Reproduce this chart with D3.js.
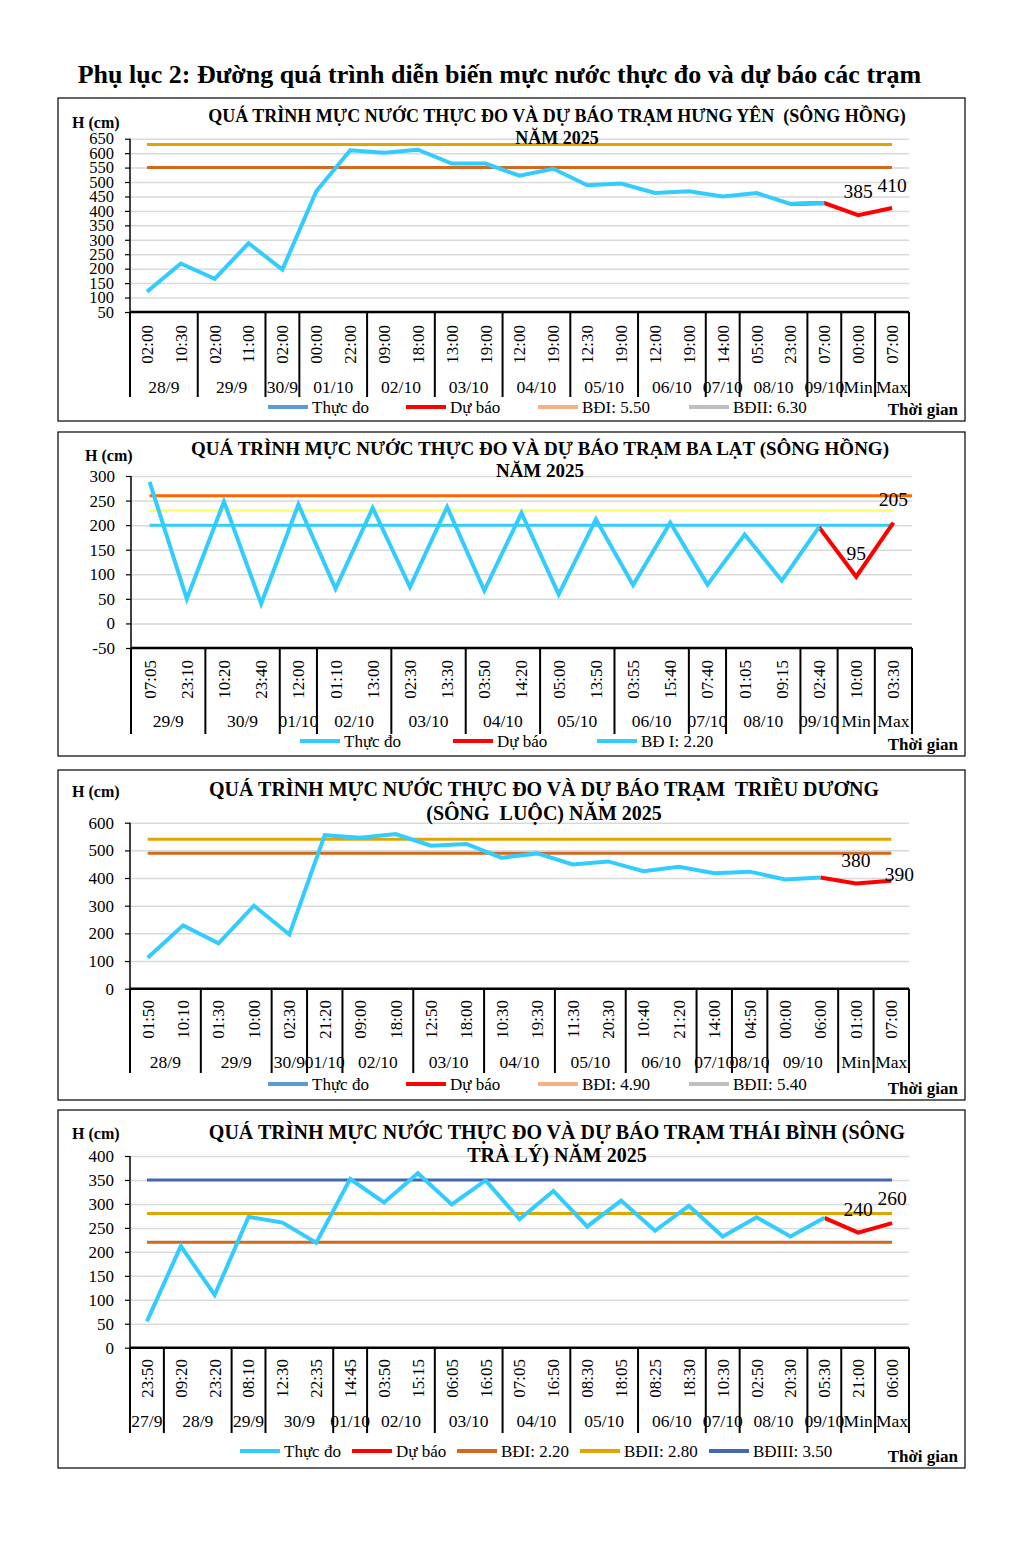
<!DOCTYPE html>
<html>
<head>
<meta charset="utf-8">
<script src="https://cdn.jsdelivr.net/npm/d3@7"></script>
<style>
  body { margin: 0; background: #fff; }
  text { font-family: "Liberation Serif", "Times New Roman", serif; }
</style>
</head>
<body>
<div id="chart"></div>
<script>
// Tram Hung Yen (song Hong)
var hyNgay = ["28/9","28/9","29/9","29/9","30/9","01/10","01/10","02/10","02/10","03/10","03/10","04/10","04/10","05/10","05/10","06/10","06/10","07/10","08/10","08/10","09/10","Min","Max"];
var hyGio = ["02:00","10:30","02:00","11:00","02:00","00:00","22:00","09:00","18:00","13:00","19:00","12:00","19:00","12:30","19:00","12:00","19:00","14:00","05:00","23:00","07:00","00:00","07:00"];
var hyThucDo = [120,218,165,288,197,468,610,601,612,564,564,522,546,489,495,462,468,450,462,424,427,null,null];
var hyDuBao = [null,null,null,null,null,null,null,null,null,null,null,null,null,null,null,null,null,null,null,424,427,385,410];
var hyBaoDong = [550, 630];
var hyChuGiai = ["Thực đo", "Dự báo", "BĐI: 5.50", "BĐII: 6.30"];
var hyYTicks = [50,100,150,200,250,300,350,400,450,500,550,600,650];

// Tram Ba Lat (song Hong)
var baNgay = ["29/9","29/9","30/9","30/9","01/10","02/10","02/10","03/10","03/10","04/10","04/10","05/10","05/10","06/10","06/10","07/10","08/10","08/10","09/10","Min","Max"];
var baGio = ["07:05","23:10","10:20","23:40","12:00","01:10","13:00","02:30","13:30","03:50","14:20","05:00","13:50","03:55","15:40","07:40","01:05","09:15","02:40","10:00","03:30"];
var baThucDo = [288,50,248,40,242,71,235,74,237,67,225,59,212,78,205,79,181,87,196,null,null];
var baDuBao = [null,null,null,null,null,null,null,null,null,null,null,null,null,null,null,null,null,null,196,95,205];
var baBaoDong = [200, 230, 260];
var baChuGiai = ["Thực đo", "Dự báo", "BĐ I: 2.20"];
var baYTicks = [-50,0,50,100,150,200,250,300];

// Tram Trieu Duong (song Luoc)
var tdNgay = ["28/9","28/9","29/9","29/9","30/9","01/10","02/10","02/10","03/10","03/10","04/10","04/10","05/10","05/10","06/10","06/10","07/10","08/10","09/10","09/10","Min","Max"];
var tdGio = ["01:50","10:10","01:30","10:00","02:30","21:20","09:00","18:00","12:50","18:00","10:30","19:30","11:30","20:30","10:40","21:20","14:00","04:50","00:00","06:00","01:00","07:00"];
var tdThucDo = [112,229,164,300,196,555,546,559,517,523,473,489,449,460,425,441,417,423,395,402,null,null];
var tdDuBao = [null,null,null,null,null,null,null,null,null,null,null,null,null,null,null,null,null,null,null,402,380,390];
var tdBaoDong = [490, 540];
var tdChuGiai = ["Thực đo", "Dự báo", "BĐI: 4.90", "BĐII: 5.40"];
var tdYTicks = [0,100,200,300,400,500,600];

// Tram Thai Binh (song Tra Ly)
var tbNgay = ["27/9","28/9","28/9","29/9","30/9","30/9","01/10","02/10","02/10","03/10","03/10","04/10","04/10","05/10","05/10","06/10","06/10","07/10","08/10","08/10","09/10","Min","Max"];
var tbGio = ["23:50","09:20","23:20","08:10","12:30","22:35","14:45","03:50","15:15","06:05","16:05","07:05","16:50","08:30","18:05","08:25","18:30","10:30","02:50","20:30","05:30","21:00","06:00"];
var tbThucDo = [55,212,110,273,261,219,352,303,364,299,349,268,327,253,307,244,296,232,272,232,271,null,null];
var tbDuBao = [null,null,null,null,null,null,null,null,null,null,null,null,null,null,null,null,null,null,null,null,271,240,260];
var tbBaoDong = [220, 280, 350];
var tbChuGiai = ["Thực đo", "Dự báo", "BĐI: 2.20", "BĐII: 2.80", "BĐIII: 3.50"];
var tbYTicks = [0,50,100,150,200,250,300,350,400];

var W = 1028, H = 1548;
var svg = d3.select("#chart").append("svg")
    .attr("width", W)
    .attr("height", H);

// Tieu de chung
svg.append("text")
    .attr("x", 499.5).attr("y", 83)
    .attr("text-anchor", "middle")
    .style("font-size", "26px").style("font-weight", "bold")
    .text("Phụ lục 2: Đường quá trình diễn biến mực nước thực đo và dự báo các trạm");

var cObs = "#33CCFF", cFc = "#FF0000";

function drawPanel(c) {
    var g = svg.append("g");
    var n = c.gio.length;

    g.append("rect")
        .attr("x", c.box[0]).attr("y", c.box[1])
        .attr("width", c.box[2]).attr("height", c.box[3])
        .attr("fill", "#fff").attr("stroke", "#000").attr("stroke-width", 1.2);

    var x = d3.scaleBand().domain(d3.range(n)).range([c.left, c.right]);
    var xc = function(i) { return x(i) + x.bandwidth() / 2; };
    var y = d3.scaleLinear().domain(c.yDomain).range([c.bottom, c.top]);

    // luoi ngang + nhan truc y
    var ax = g.append("g")
        .attr("transform", "translate(" + c.left + ",0)")
        .call(d3.axisLeft(y).tickValues(c.yTicks).tickFormat(String)
            .tickSize(-(c.right - c.left)).tickPadding(16));
    ax.select(".domain").remove();
    ax.selectAll(".tick line").attr("stroke", "#D9D9D9").attr("stroke-width", 1.5);
    ax.selectAll(".tick text")
        .style("font-size", c.tickFont || "17px")
        .style("font-family", "'Liberation Serif', serif").attr("fill", "#000");
    // vach nho ben trai
    ax.selectAll(".tick").append("line")
        .attr("x1", -5).attr("x2", 0).attr("stroke", "#000").attr("stroke-width", 1.2);

    // duong bao dong
    c.alerts.forEach(function(a, k) {
        g.append("line")
            .attr("x1", xc(0))
            .attr("x2", c.alertToEdge && c.alertToEdge[k] ? c.right : xc(n - 1))
            .attr("y1", y(a)).attr("y2", y(a))
            .attr("stroke", c.alertColors[k]).attr("stroke-width", 3);
    });

    var line = d3.line()
        .defined(function(d) { return d != null; })
        .x(function(d, i) { return xc(i); })
        .y(function(d) { return y(d); });

    g.append("path").datum(c.duBao)
        .attr("d", line).attr("fill", "none")
        .attr("stroke", cFc).attr("stroke-width", 4);
    g.append("path").datum(c.thucDo)
        .attr("d", line).attr("fill", "none")
        .attr("stroke", cObs).attr("stroke-width", 4);

    // nhan gia tri du bao Min / Max
    [n - 2, n - 1].forEach(function(i, k) {
        g.append("text")
            .attr("x", xc(i) + c.lblOff[k][0])
            .attr("y", y(c.duBao[i]) + c.lblOff[k][1])
            .attr("text-anchor", "middle")
            .style("font-size", "19.5px")
            .text(c.duBao[i]);
    });

    // truc x nhieu cap
    g.append("line")
        .attr("x1", c.left).attr("x2", c.left)
        .attr("y1", c.top).attr("y2", c.sepBottom)
        .attr("stroke", "#000").attr("stroke-width", 1.5);
    g.append("line")
        .attr("x1", c.left).attr("x2", c.right)
        .attr("y1", c.bottom).attr("y2", c.bottom)
        .attr("stroke", "#000").attr("stroke-width", 2.5);

    g.selectAll(".gio").data(c.gio).enter().append("text")
        .attr("transform", function(d, i) { return "translate(" + xc(i) + "," + c.timeTop + ") rotate(-90)"; })
        .attr("text-anchor", "end")
        .attr("dy", "0.35em")
        .style("font-size", "17px")
        .text(function(d) { return d; });

    // nhom theo ngay
    var groups = [];
    c.ngay.forEach(function(d, i) {
        if (i === 0 || d !== c.ngay[i - 1]) groups.push({ name: d, start: i, end: i });
        else groups[groups.length - 1].end = i;
    });
    groups.forEach(function(gr) {
        var x0 = x(gr.start), x1 = x(gr.end) + x.bandwidth();
        g.append("line")
            .attr("x1", x1).attr("x2", x1)
            .attr("y1", c.bottom).attr("y2", c.sepBottom)
            .attr("stroke", "#000").attr("stroke-width", 2);
        g.append("text")
            .attr("x", (x0 + x1) / 2).attr("y", c.dateY)
            .attr("text-anchor", "middle")
            .style("font-size", "17.5px")
            .text(gr.name);
    });
    g.append("line")
        .attr("x1", c.left).attr("x2", c.left)
        .attr("y1", c.bottom).attr("y2", c.sepBottom)
        .attr("stroke", "#000").attr("stroke-width", 2);

    // tieu de
    c.title.forEach(function(t, k) {
        g.append("text")
            .attr("x", c.titleX).attr("y", c.titleY + k * c.titleGap)
            .attr("text-anchor", "middle")
            .style("font-size", c.titleFont).style("font-weight", "bold")
            .style("white-space", "pre")
            .text(t);
    });
    g.append("text")
        .attr("x", c.hX).attr("y", c.hY)
        .style("font-size", "16px").style("font-weight", "bold")
        .text("H (cm)");
    g.append("text")
        .attr("x", c.box[0] + c.box[2] - 7).attr("y", c.box[1] + c.box[3] - 6)
        .attr("text-anchor", "end")
        .style("font-size", "17px").style("font-weight", "bold")
        .text("Thời gian");

    // chu giai
    c.legend.forEach(function(t, k) {
        var lx = c.legendX[k];
        g.append("line")
            .attr("x1", lx).attr("x2", lx + 40)
            .attr("y1", c.legendY).attr("y2", c.legendY)
            .attr("stroke", c.legendColors[k]).attr("stroke-width", 4);
        g.append("text")
            .attr("x", lx + 44).attr("y", c.legendY + 6)
            .style("font-size", "17px")
            .text(t);
    });
}

drawPanel({
    box: [58, 98, 907, 323],
    left: 130, right: 909, top: 138.7, bottom: 312,
    yDomain: [50, 650], yTicks: hyYTicks, tickFont: "16.5px",
    ngay: hyNgay, gio: hyGio, thucDo: hyThucDo, duBao: hyDuBao,
    alerts: hyBaoDong, alertColors: ["#D2691E", "#E2A400"],
    lblOff: [[0, -17], [0, -16]],
    timeTop: 325, dateY: 393, sepBottom: 397,
    title: ["QUÁ TRÌNH MỰC NƯỚC THỰC ĐO VÀ DỰ BÁO TRẠM HƯNG YÊN  (SÔNG HỒNG)", "NĂM 2025"],
    titleX: 557, titleY: 122, titleFont: "18px", titleGap: 22,
    hX: 72, hY: 128,
    legend: hyChuGiai, legendColors: ["#5B9BD5", "#FF0000", "#F4B183", "#BFBFBF"],
    legendX: [268, 406, 538, 689], legendY: 407
});

drawPanel({
    box: [58, 432, 907, 324],
    left: 131, right: 912, top: 476, bottom: 648,
    yDomain: [-50, 300], yTicks: baYTicks,
    ngay: baNgay, gio: baGio, thucDo: baThucDo, duBao: baDuBao,
    alerts: baBaoDong, alertColors: ["#33CCFF", "#FFFF66", "#FF6600"], alertToEdge: [false, false, true],
    lblOff: [[0, -17], [0, -17]],
    timeTop: 660, dateY: 727, sepBottom: 734,
    title: ["QUÁ TRÌNH MỰC NƯỚC THỰC ĐO VÀ DỰ BÁO TRẠM BA LẠT (SÔNG HỒNG)", "NĂM 2025"],
    titleX: 540, titleY: 455, titleFont: "19px", titleGap: 22,
    hX: 85, hY: 461,
    legend: baChuGiai, legendColors: ["#33CCFF", "#FF0000", "#33CCFF"],
    legendX: [300, 453, 597], legendY: 741
});

drawPanel({
    box: [58, 770, 907, 330],
    left: 130, right: 909, top: 822.7, bottom: 988.7,
    yDomain: [0, 600], yTicks: tdYTicks,
    ngay: tdNgay, gio: tdGio, thucDo: tdThucDo, duBao: tdDuBao,
    alerts: tdBaoDong, alertColors: ["#D2691E", "#E2A400"],
    lblOff: [[0, -17], [8, 0]],
    timeTop: 1000, dateY: 1068, sepBottom: 1073,
    title: ["QUÁ TRÌNH MỰC NƯỚC THỰC ĐO VÀ DỰ BÁO TRẠM  TRIỀU DƯƠNG", "(SÔNG  LUỘC) NĂM 2025"],
    titleX: 544, titleY: 796, titleFont: "20px", titleGap: 24,
    hX: 72, hY: 797,
    legend: tdChuGiai, legendColors: ["#5B9BD5", "#FF0000", "#F4B183", "#BFBFBF"],
    legendX: [268, 406, 538, 689], legendY: 1084
});

drawPanel({
    box: [58, 1110, 907, 358],
    left: 130, right: 909, top: 1156, bottom: 1347.7,
    yDomain: [0, 400], yTicks: tbYTicks,
    ngay: tbNgay, gio: tbGio, thucDo: tbThucDo, duBao: tbDuBao,
    alerts: tbBaoDong, alertColors: ["#D2691E", "#E2A400", "#4468B0"],
    lblOff: [[0, -17], [0, -18]],
    timeTop: 1359, dateY: 1427, sepBottom: 1433,
    title: ["QUÁ TRÌNH MỰC NƯỚC THỰC ĐO VÀ DỰ BÁO TRẠM THÁI BÌNH (SÔNG", "TRÀ LÝ) NĂM 2025"],
    titleX: 557, titleY: 1139, titleFont: "20px", titleGap: 23,
    hX: 72, hY: 1139,
    legend: tbChuGiai, legendColors: ["#33CCFF", "#FF0000", "#D2691E", "#E2A400", "#4468B0"],
    legendX: [240, 352, 457, 580, 709], legendY: 1451
});
</script>
</body>
</html>
